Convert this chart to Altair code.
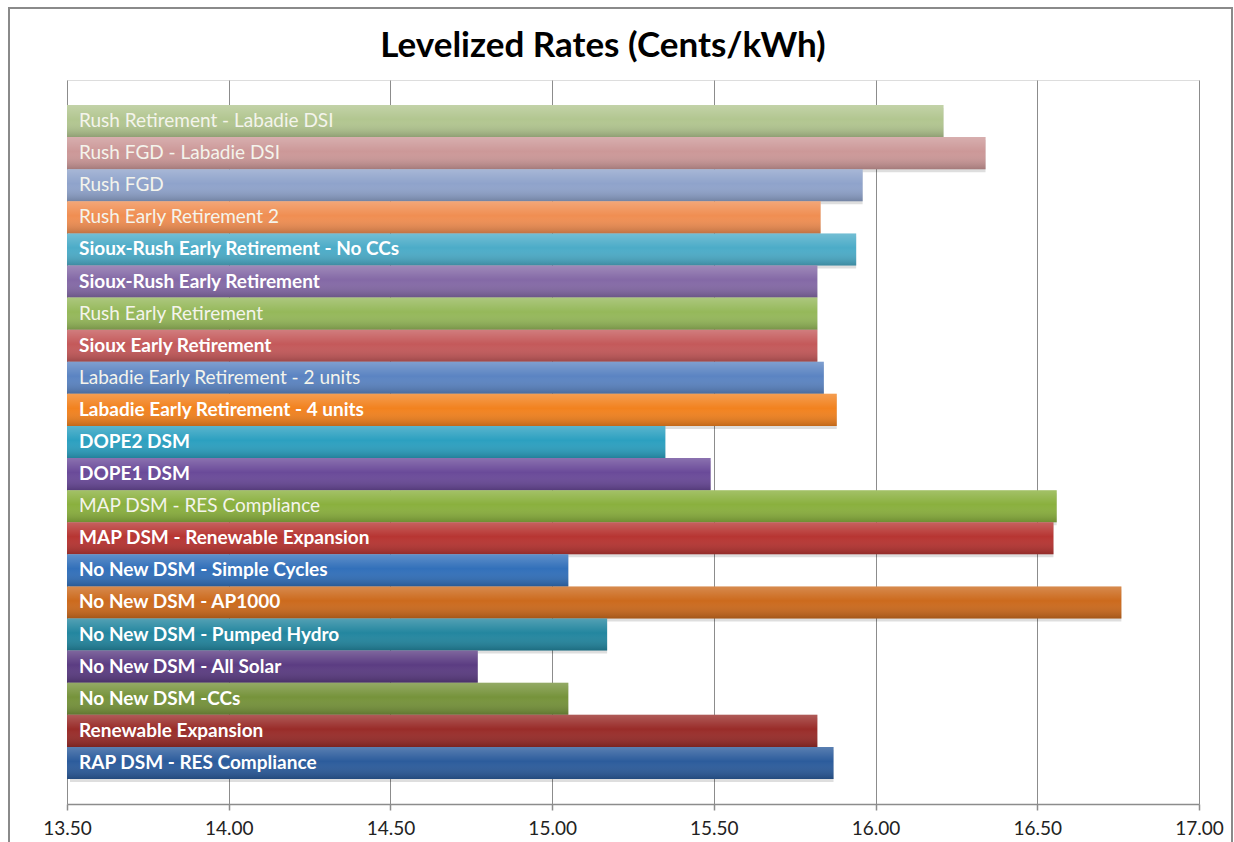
import altair as alt
import pandas as pd

categories = [
    "Rush Retirement - Labadie DSI",
    "Rush FGD - Labadie DSI",
    "Rush FGD",
    "Rush Early Retirement 2",
    "Sioux-Rush Early Retirement - No CCs",
    "Sioux-Rush Early Retirement",
    "Rush Early Retirement",
    "Sioux Early Retirement",
    "Labadie Early Retirement - 2 units",
    "Labadie Early Retirement - 4 units",
    "DOPE2 DSM",
    "DOPE1 DSM",
    "MAP DSM - RES Compliance",
    "MAP DSM - Renewable Expansion",
    "No New DSM - Simple Cycles",
    "No New DSM - AP1000",
    "No New DSM - Pumped Hydro",
    "No New DSM - All Solar",
    "No New DSM -CCs",
    "Renewable Expansion",
    "RAP DSM - RES Compliance",
]
values = [16.21, 16.34, 15.96, 15.83, 15.94, 15.82, 15.82, 15.82, 15.84, 15.88,
          15.35, 15.49, 16.56, 16.55, 15.05, 16.76, 15.17, 14.77, 15.05, 15.82, 15.87]
colors = [
    "#B2C690", "#CC9898", "#8FA3CB", "#F08E52", "#4CACC8", "#8469A6", "#95B85A",
    "#C4595A", "#5B84C2", "#F2821F", "#2CA0C0", "#6A4A99", "#8AB03E", "#B73532",
    "#3270BA", "#CC6A1D", "#23869F", "#5B3C82", "#76933B", "#992C29", "#2C5C9C",
]
bold = [False, False, False, False, True, True, False, True, False, True,
        True, True, False, True, True, True, True, True, True, True, True]
x_ticks = [13.5, 14.0, 14.5, 15.0, 15.5, 16.0, 16.5, 17.0]
x_start = 13.5
title_text = "Levelized Rates (Cents/kWh)"

df = pd.DataFrame({"scenario": categories, "rate": values,
                   "start": [x_start] * len(categories), "bold": bold})

W, H = 1132, 724
PL, PT = 67, 80

xscale = alt.Scale(domain=[x_ticks[0], x_ticks[-1]], nice=False, zero=False)
yscale = alt.Scale(paddingInner=0, paddingOuter=0.78)
ysort = categories

base = alt.Chart(df)

shadow = base.mark_bar(color="#000000", opacity=0.13, xOffset=3, yOffset=3).encode(
    x=alt.X("start:Q", scale=xscale,
            axis=alt.Axis(values=x_ticks, format=".2f", title=None,
                          labelFont="Lato", labelFontSize=19, labelColor="#222222",
                          labelPadding=9, labelFlush=False, grid=True,
                          gridColor="#8c8c8c", gridWidth=1,
                          domainColor="#8c8c8c", domainWidth=1.5, tickColor="#8c8c8c",
                          tickSize=6, tickWidth=1.5)),
    x2="rate:Q",
    y=alt.Y("scenario:N", sort=ysort, scale=yscale, axis=None),
)

bars = base.mark_bar().encode(
    x=alt.X("start:Q", scale=xscale),
    x2="rate:Q",
    y=alt.Y("scenario:N", sort=ysort, scale=yscale),
    color=alt.Color("scenario:N", scale=alt.Scale(domain=categories, range=colors), legend=None),
)

grad = alt.Gradient(
    gradient="linear",
    stops=[
        alt.GradientStop(color="rgba(255,255,255,0.22)", offset=0),
        alt.GradientStop(color="rgba(255,255,255,0.0)", offset=0.45),
        alt.GradientStop(color="rgba(0,0,0,0.20)", offset=1),
    ],
    x1=0, x2=0, y1=0, y2=1,
)
gloss = base.mark_bar(color=grad).encode(
    x=alt.X("start:Q", scale=xscale),
    x2="rate:Q",
    y=alt.Y("scenario:N", sort=ysort, scale=yscale),
)

labels_bold = base.transform_filter("datum.bold").mark_text(
    align="left", baseline="middle", dx=12, font="Lato", fontSize=19,
    fontWeight="bold", color="#FFFFFF"
).encode(
    x=alt.X("start:Q", scale=xscale),
    y=alt.Y("scenario:N", sort=ysort, scale=yscale),
    text="scenario:N",
)
labels_plain = base.transform_filter("!datum.bold").mark_text(
    align="left", baseline="middle", dx=12, font="Lato", fontSize=19,
    fontWeight="normal", color="#F4F4EC"
).encode(
    x=alt.X("start:Q", scale=xscale),
    y=alt.Y("scenario:N", sort=ysort, scale=yscale),
    text="scenario:N",
)

title = alt.Chart(pd.DataFrame({"t": [title_text]})).mark_text(
    align="center", baseline="alphabetic", font="Lato", fontSize=35,
    fontWeight="bold", color="#000000"
).encode(
    x=alt.value(603 - PL), y=alt.value(57 - PT), text="t:N",
)

frame = alt.Chart(pd.DataFrame({"f": [0]})).mark_rect(
    filled=False, stroke="#8a8a8a", strokeWidth=2
).encode(
    x=alt.value(9 - PL), x2=alt.value(1232 - PL),
    y=alt.value(8 - PT), y2=alt.value(900),
)

chart = alt.layer(shadow, bars, gloss, labels_plain, labels_bold, title, frame).properties(
    width=W, height=H,
    padding={"left": PL, "top": PT, "right": 1234 - PL - W, "bottom": 842 - PT - H},
    autosize=alt.AutoSizeParams(type="none"),
).configure_view(stroke=None).configure(background="white")

chart.save("out.html", embed_options={"renderer": "svg", "actions": False})
